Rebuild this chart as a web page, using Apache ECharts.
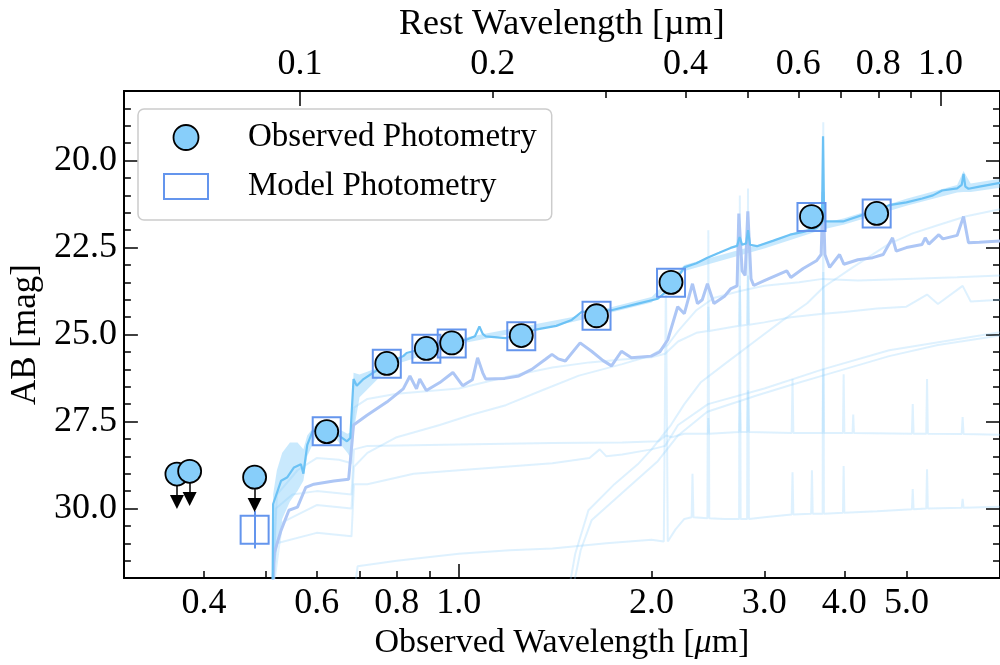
<!DOCTYPE html>
<html><head><meta charset="utf-8">
<script src="https://cdn.jsdelivr.net/npm/echarts@6/dist/echarts.min.js"></script>
<style>html,body{margin:0;padding:0;background:#fff}#c{width:1000px;height:665px}</style>
</head><body><div id="c"></div>
<script>
// ---------------- data ----------------
const ONE_PLUS_Z = 5.65;
const X_RANGE = [0.3, 7.0];
const Y_RANGE = [18, 32];

const bottomLabels = [0.4, 0.6, 0.8, 1.0, 2.0, 3.0, 4.0, 5.0];
const bottomMinorTicks = [0.4, 0.5, 0.6, 0.7, 0.8, 0.9, 2, 3, 4, 5];
const bottomMajorTicks = [1.0];
const topLabels = [0.1, 0.2, 0.4, 0.6, 0.8, 1.0];
const topMinorTicks = [0.2, 0.3, 0.4, 0.5, 0.6, 0.7, 0.8, 0.9];
const topMajorTicks = [0.1, 1.0];
const yLabels = [20, 22.5, 25, 27.5, 30];
const yMinorTicks = [18, 18.5, 19, 19.5, 20, 20.5, 21, 21.5, 22, 22.5, 23, 23.5, 24, 24.5, 25, 25.5, 26, 26.5, 27, 27.5, 28, 28.5, 29, 29.5, 30, 30.5, 31, 31.5, 32];

// observed photometry: wavelength (um), AB mag
const obsWave = [0.622, 0.772, 0.890, 0.975, 1.252, 1.641, 2.145, 3.554, 4.493];
const obsMag  = [27.79, 25.83, 25.40, 25.24, 25.03, 24.46, 23.50, 21.61, 21.52];
// upper limits
const ulimWave = [0.363, 0.380, 0.480];
const ulimMag  = [29.01, 28.93, 29.10];
const ULIM_ARROW = 0.8;
// model photometry
const modelWave = [0.480, 0.622, 0.772, 0.890, 0.975, 1.252, 1.641, 2.145, 3.554, 4.493];
const modelMag  = [30.61, 27.78, 25.84, 25.41, 25.26, 25.05, 24.46, 23.51, 21.62, 21.52];
const modelErr  = [0.54, 0.05, 0.04, 0.04, 0.04, 0.04, 0.04, 0.04, 0.04, 0.04];

// best-fit spectrum
const specBest = [[0.512,32.5],[0.513,29.87],[0.528,29.2],[0.54,29.1],[0.553,28.82],[0.567,28.73],[0.572,29.0],[0.58,28.17],[0.591,27.79],[0.608,27.69],[0.637,27.79],[0.669,28.07],[0.677,27.97],[0.685,26.28],[0.693,26.47],[0.71,26.28],[0.736,26.09],[0.772,25.85],[0.819,25.62],[0.829,25.53],[0.88,25.4],[0.934,25.24],[1.027,25.15],[1.06,25.05],[1.077,24.77],[1.09,24.98],[1.102,25.05],[1.184,25.1],[1.25,24.98],[1.318,24.86],[1.42,24.75],[1.501,24.58],[1.556,24.35],[1.65,24.33],[1.732,24.3],[1.905,24.11],[2.045,23.97],[2.12,23.73],[2.19,23.4],[2.25,23.07],[2.35,22.95],[2.445,22.79],[2.55,22.65],[2.657,22.51],[2.72,22.45],[2.745,22.2],[2.77,22.42],[2.81,22.38],[2.829,22.0],[2.85,22.42],[2.922,22.46],[3.1,22.3],[3.29,22.13],[3.45,22.05],[3.618,21.94],[3.69,21.8],[3.705,19.3],[3.72,21.75],[3.74,21.74],[3.98,21.75],[4.274,21.56],[4.5,21.45],[4.7,21.28],[5.0,21.2],[5.293,21.09],[5.5,21.0],[5.685,20.86],[6.0,20.8],[6.1,20.7],[6.14,20.38],[6.18,20.75],[6.25,20.81],[6.5,20.75],[7.0,20.64]];
// uncertainty band of the best fit: wavelength, bright edge, faint edge
const bandBest = [[0.513,29.6,32],[0.52,28.9,31.2],[0.53,28.4,30.3],[0.545,28.1,29.8],[0.56,28.1,29.5],[0.572,28.3,29.2],[0.58,27.9,28.5],[0.6,27.55,27.9],[0.64,27.65,27.95],[0.67,27.85,28.4],[0.68,27.8,28.6],[0.685,26.1,27.8],[0.7,26.15,26.8],[0.75,25.95,26.25],[0.8,25.65,25.85],[1.0,25.12,25.27],[1.5,24.5,24.65],[2.0,23.92,24.08],[2.25,23.0,23.17],[3.0,22.37,22.53],[3.7,21.8,21.98],[4.0,21.66,21.84],[5.0,21.1,21.3],[6.0,20.7,20.92],[6.14,20.3,20.9],[6.3,20.66,20.9],[7.0,20.52,20.78]];
// second model spectrum
const specAlt = [[0.512,32.5],[0.515,31.28],[0.528,30.62],[0.543,30.05],[0.56,29.96],[0.577,29.39],[0.594,29.3],[0.638,29.21],[0.673,29.16],[0.685,27.6],[0.719,27.32],[0.772,26.94],[0.819,26.56],[0.839,26.19],[0.859,26.56],[0.869,26.28],[0.89,26.61],[0.934,26.38],[0.979,26.09],[1.014,26.47],[1.05,26.3],[1.07,25.67],[1.09,26.1],[1.102,26.28],[1.18,26.26],[1.241,26.19],[1.3,26.0],[1.366,25.71],[1.398,25.57],[1.43,25.7],[1.467,25.76],[1.547,25.24],[1.612,25.48],[1.68,25.75],[1.732,25.9],[1.795,25.48],[1.86,25.67],[1.997,25.62],[2.06,25.5],[2.12,25.15],[2.197,24.2],[2.25,24.4],[2.317,23.54],[2.359,24.11],[2.4,24.0],[2.445,23.54],[2.503,24.11],[2.6,23.9],[2.657,23.69],[2.72,23.6],[2.737,21.52],[2.77,23.17],[2.8,23.3],[2.827,21.46],[2.86,23.4],[2.888,23.59],[3.0,23.45],[3.252,23.17],[3.3,23.36],[3.45,23.1],[3.618,22.88],[3.68,22.7],[3.705,20.9],[3.73,22.7],[3.794,23.07],[3.932,22.7],[3.993,22.98],[4.2,22.85],[4.43,22.79],[4.6,22.7],[4.757,22.22],[4.82,22.6],[5.0,22.5],[5.29,22.41],[5.35,22.22],[5.42,22.4],[5.618,22.13],[5.7,22.25],[6.0,22.15],[6.14,21.61],[6.25,22.36],[6.5,22.35],[7.0,22.31]];
// faint posterior draws
const drawA = [[0.512,32.5],[0.518,30.0],[0.55,29.6],[0.6,29.5],[0.68,29.6],[0.686,28.3],[0.72,28.2],[0.85,28.18],[1.0,28.16],[1.4,28.12],[1.8,28.1],[2.05,28.07],[2.106,27.9],[2.15,27.95],[2.25,27.85],[2.45,27.85],[2.453,27.4],[2.46,27.85],[2.74,27.8],[2.747,26.9],[2.755,27.8],[2.82,27.8],[2.829,26.6],[2.84,27.8],[3.31,27.83],[3.32,26.28],[3.33,27.83],[3.7,27.83],[3.708,26.0],[3.716,27.83],[3.98,27.83],[3.99,26.14],[4.0,27.83],[4.12,27.83],[4.13,27.3],[4.14,27.83],[5.1,27.85],[5.115,27.0],[5.13,27.85],[5.37,27.85],[5.385,26.28],[5.4,27.85],[6.1,27.86],[6.12,27.37],[6.14,27.86],[7.0,27.88]];
const drawB = [[0.686,32.5],[0.695,31.66],[0.8,31.5],[1.0,31.3],[1.2,31.2],[1.4,31.15],[1.7,31.0],[2.0,30.9],[2.09,30.95],[2.106,23.3],[2.12,30.95],[2.18,30.6],[2.25,30.3],[2.31,30.25],[2.317,29.0],[2.325,30.25],[2.445,30.28],[2.453,22.0],[2.461,30.28],[2.6,30.3],[2.74,30.3],[2.747,21.0],[2.755,30.3],[2.82,30.3],[2.829,20.8],[2.838,30.3],[3.0,30.25],[3.31,30.17],[3.32,28.96],[3.33,30.17],[3.55,30.15],[3.56,28.9],[3.57,30.15],[3.7,30.15],[3.708,18.9],[3.716,30.15],[3.98,30.12],[3.99,28.78],[4.0,30.12],[4.5,30.08],[5.1,30.02],[5.115,29.44],[5.13,30.02],[5.37,30.0],[5.385,28.87],[5.4,30.0],[6.1,29.98],[6.12,29.72],[6.14,29.98],[7.0,29.95]];
const drawC = [[1.48,32.5],[1.52,31.3],[1.594,30.05],[1.75,29.3],[1.903,28.73],[2.0,28.3],[2.144,27.6],[2.25,27.0],[2.385,26.38],[2.6,25.85],[2.92,25.15],[3.2,24.6],[3.5,24.1],[3.71,23.64],[4.1,23.1],[4.69,22.4],[5.1,22.1],[5.61,21.85],[6.2,21.6],[7.0,21.4]];
const drawD = [[1.5,32.5],[1.55,31.2],[1.612,30.34],[1.815,29.49],[2.045,28.64],[2.2,27.9],[2.444,27.22],[2.918,26.75],[3.3,26.45],[3.7,26.18],[4.7,25.62],[5.6,25.3],[7.0,25.03]];
const drawE = [[0.512,32.5],[0.52,31.0],[0.6,30.7],[0.68,30.8],[0.686,29.3],[0.72,29.3],[0.85,29.0],[1.0,28.9],[1.4,28.7],[1.6,28.55],[1.66,28.3],[1.7,28.5],[1.8,28.45],[2.0,28.3],[2.1,28.2],[2.2,27.6],[2.45,27.0],[3.0,26.55],[3.7,26.0],[4.7,25.45],[7.0,24.93]];
const drawF = [[0.512,32.5],[0.53,30.4],[0.6,29.9],[0.68,30.0],[0.686,28.8],[0.72,28.4],[0.8,27.95],[0.934,27.6],[1.05,27.3],[1.184,27.03],[1.35,26.6],[1.54,26.18],[1.8,25.85],[2.0,25.6],[2.12,25.3],[2.2,24.9],[2.35,24.3],[2.5,23.95],[2.75,23.75],[3.0,23.6],[3.4,23.5],[3.7,23.4],[4.2,23.45],[5.0,23.4],[6.0,23.35],[7.0,23.3]];
const drawG = [[0.512,32.5],[0.52,29.6],[0.56,28.9],[0.6,28.55],[0.65,28.6],[0.68,28.7],[0.686,27.1],[0.72,26.85],[0.8,26.7],[1.0,26.55],[1.2,26.2],[1.4,25.95],[1.6,25.8],[1.8,25.72],[2.0,25.65],[2.1,25.55],[2.2,25.2],[2.35,24.95],[2.45,24.9],[2.453,24.2],[2.46,24.9],[2.74,24.75],[2.747,23.6],[2.755,24.75],[2.82,24.72],[2.829,23.3],[2.84,24.72],[3.0,24.65],[3.3,24.5],[3.7,24.4],[3.708,23.2],[3.716,24.4],[4.0,24.35],[4.5,24.25],[5.0,24.2],[5.385,23.85],[5.6,24.12],[6.12,23.6],[6.3,24.05],[7.0,24.0]];
const faintDraws = [drawA, drawB, drawC, drawD, drawE, drawF, drawG];

// ---------------- chart ----------------
const FONT = 'Liberation Serif';
const lg = Math.log10;
const toXY = arr => arr.map(p => [lg(p[0]), p[1]]);
const XMIN = lg(X_RANGE[0]), XMAX = lg(X_RANGE[1]), LZ = lg(ONE_PLUS_Z);

const labelFmtX = v => Math.pow(10, v).toFixed(1);
const baseX = {type: 'value', min: XMIN, max: XMAX, splitLine: {show: false}, gridIndex: 0};
const baseY = {type: 'value', min: Y_RANGE[0], max: Y_RANGE[1], inverse: true, splitLine: {show: false}};
const spine = {show: true, onZero: false, lineStyle: {color: '#000', width: 2}};
const noSpine = {show: false, onZero: false};
const tickStyle = {color: '#000', width: 1.5};
const MAJOR = 14, MINOR = 7;

const series = [];
// uncertainty band as one polygon
series.push({type: 'custom', name: 'band', z: 2, silent: true,
  data: bandBest.map(p => [lg(p[0]), p[1], p[2]]), encode: {x: 0, y: [1, 2]},
  renderItem: (params, api) => {
    if (params.dataIndex !== 0) return null;
    const upper = bandBest.map(p => api.coord([lg(p[0]), p[1]]));
    const lower = bandBest.map(p => api.coord([lg(p[0]), p[2]])).reverse();
    return {type: 'polygon', shape: {points: upper.concat(lower)}, style: {fill: 'rgba(135,206,250,0.45)', stroke: null}};
  }});
faintDraws.forEach((d, i) => series.push({type: 'line', name: 'draw' + i, data: toXY(d), symbol: 'none', lineStyle: {color: 'rgba(135,206,250,0.28)', width: 2}, z: 2, silent: true}));
series.push({type: 'line', name: 'alt', data: toXY(specAlt), symbol: 'none', lineStyle: {color: '#adc6f5', width: 3}, z: 3, silent: true});
series.push({type: 'line', name: 'best', data: toXY(specBest), symbol: 'none', lineStyle: {color: '#6cc2f5', width: 2.2}, z: 4, silent: true});
// model errorbars
series.push({type: 'lines', coordinateSystem: 'cartesian2d', name: 'modelErr', z: 5,
  data: modelWave.map((w, i) => ({coords: [[lg(w), modelMag[i] - modelErr[i]], [lg(w), modelMag[i] + modelErr[i]]]})),
  lineStyle: {color: '#6495ed', width: 2, opacity: 1}, symbol: 'none', silent: true});
series.push({type: 'scatter', name: 'Model Photometry', data: modelWave.map((w, i) => [lg(w), modelMag[i]]),
  symbol: 'rect', symbolSize: 28, itemStyle: {color: 'rgba(255,255,255,0)', borderColor: '#6495ed', borderWidth: 2, opacity: 1}, z: 5});
// upper-limit arrows
series.push({type: 'lines', coordinateSystem: 'cartesian2d', name: 'ulimArrow', z: 6,
  data: ulimWave.map((w, i) => ({coords: [[lg(w), ulimMag[i]], [lg(w), ulimMag[i] + ULIM_ARROW]]})),
  lineStyle: {color: '#000', width: 1.5, opacity: 1}, symbol: ['none', 'triangle'], symbolSize: 14, silent: true});
series.push({type: 'scatter', name: 'Observed Photometry',
  data: obsWave.map((w, i) => [lg(w), obsMag[i]]).concat(ulimWave.map((w, i) => [lg(w), ulimMag[i]])),
  symbol: 'circle', symbolSize: 23, itemStyle: {color: '#87cefa', borderColor: '#000', borderWidth: 1.8, opacity: 1}, z: 7});

const option = {
  animation: false,
  backgroundColor: '#fff',
  textStyle: {fontFamily: FONT},
  grid: {left: 121, right: -4, top: 91, bottom: 79.5, containLabel: false},
  legend: {
    data: [
      {name: 'Observed Photometry', icon: 'circle', itemStyle: {color: '#87cefa', borderColor: '#000', borderWidth: 1.8, opacity: 1}},
      {name: 'Model Photometry', icon: 'rect', itemStyle: {color: 'rgba(255,255,255,0)', borderColor: '#6495ed', borderWidth: 2, opacity: 1}}
    ],
    orient: 'vertical', left: 138, top: 109, selectedMode: false,
    itemWidth: 44, itemHeight: 25, itemGap: 16,
    padding: [12, 15, 17, 25],
    backgroundColor: 'rgba(255,255,255,0.8)', borderColor: '#cccccc', borderWidth: 1.5, borderRadius: 6,
    textStyle: {fontFamily: FONT, fontSize: 33, color: '#000', padding: [0, 0, 0, 35], lineHeight: 30}
  },
  xAxis: [
    Object.assign({}, baseX, {position: 'bottom', axisLine: spine,
      axisTick: {show: true, inside: true, length: MINOR, lineStyle: tickStyle, customValues: bottomMinorTicks.map(lg)},
      axisLabel: {show: true, customValues: bottomLabels.map(lg), formatter: labelFmtX, fontFamily: FONT, fontSize: 36, color: '#000', margin: 7},
      name: 'Observed Wavelength [{it|μ}m]', nameLocation: 'middle', nameGap: 38,
      nameTextStyle: {fontFamily: FONT, fontSize: 34, color: '#000', rich: {it: {fontFamily: FONT, fontSize: 34, fontStyle: 'italic', color: '#000'}}}}),
    Object.assign({}, baseX, {position: 'bottom', axisLine: noSpine,
      axisTick: {show: true, inside: true, length: MAJOR, lineStyle: tickStyle, customValues: bottomMajorTicks.map(lg)},
      axisLabel: {show: false}}),
    Object.assign({}, baseX, {position: 'top', min: XMIN - LZ, max: XMAX - LZ, axisLine: spine,
      axisTick: {show: true, inside: true, length: MINOR, lineStyle: tickStyle, customValues: topMinorTicks.map(lg)},
      axisLabel: {show: true, customValues: topLabels.map(lg), formatter: labelFmtX, fontFamily: FONT, fontSize: 36, color: '#000', margin: 8},
      name: 'Rest Wavelength [µm]', nameLocation: 'middle', nameGap: 48,
      nameTextStyle: {fontFamily: FONT, fontSize: 36, color: '#000'}}),
    Object.assign({}, baseX, {position: 'top', min: XMIN - LZ, max: XMAX - LZ, axisLine: noSpine,
      axisTick: {show: true, inside: true, length: MAJOR + 1, lineStyle: tickStyle, customValues: topMajorTicks.map(lg)},
      axisLabel: {show: false}})
  ],
  yAxis: [
    Object.assign({}, baseY, {position: 'left', axisLine: spine,
      axisTick: {show: true, inside: true, length: MAJOR, lineStyle: tickStyle, customValues: yLabels},
      axisLabel: {show: true, customValues: yLabels, formatter: v => v.toFixed(1), fontFamily: FONT, fontSize: 36, color: '#000', margin: 7},
      name: 'AB [mag]', nameLocation: 'middle', nameGap: 76,
      nameTextStyle: {fontFamily: FONT, fontSize: 35, color: '#000'}}),
    Object.assign({}, baseY, {position: 'left', axisLine: noSpine,
      axisTick: {show: true, inside: true, length: MINOR, lineStyle: tickStyle, customValues: yMinorTicks},
      axisLabel: {show: false}}),
    Object.assign({}, baseY, {position: 'right', axisLine: spine,
      axisTick: {show: true, inside: true, length: MAJOR, lineStyle: tickStyle, customValues: yLabels},
      axisLabel: {show: false}}),
    Object.assign({}, baseY, {position: 'right', axisLine: noSpine,
      axisTick: {show: true, inside: true, length: MINOR, lineStyle: tickStyle, customValues: yMinorTicks},
      axisLabel: {show: false}})
  ],
  series: series
};
const chart = echarts.init(document.getElementById('c'), null, {renderer: 'canvas'});
chart.setOption(option);
</script></body></html>
